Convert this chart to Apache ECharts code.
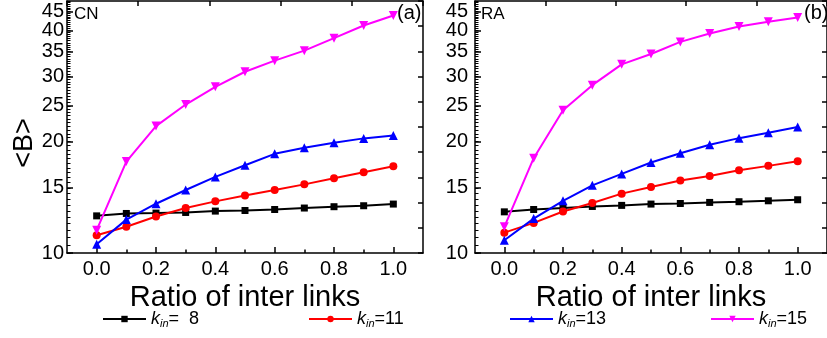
<!DOCTYPE html>
<html>
<head>
<meta charset="utf-8">
<script src="https://cdn.jsdelivr.net/npm/echarts@6/dist/echarts.min.js"></script>
<style>
html,body{margin:0;padding:0;background:#fff;}
#chart{width:827px;height:338px;}
</style>
</head>
<body>
<div id="chart"></div>
<script>
const ratios = [0.0, 0.1, 0.2, 0.3, 0.4, 0.5, 0.6, 0.7, 0.8, 0.9, 1.0];
// Panel (a) CN
const cnK8  = [12.60, 12.79, 12.82, 12.87, 12.98, 13.03, 13.11, 13.23, 13.34, 13.42, 13.56];
const cnK11 = [11.17, 11.77, 12.55, 13.23, 13.79, 14.31, 14.80, 15.33, 15.92, 16.53, 17.16];
const cnK13 = [10.56, 12.31, 13.59, 14.80, 16.06, 17.27, 18.54, 19.25, 19.87, 20.41, 20.79];
const cnK15 = [11.53, 17.67, 22.03, 25.20, 28.13, 30.90, 33.11, 35.24, 38.08, 41.21, 43.87];
// Panel (b) RA
const raK8  = [12.92, 13.11, 13.23, 13.36, 13.45, 13.56, 13.61, 13.70, 13.76, 13.84, 13.93];
const raK11 = [11.35, 12.06, 12.95, 13.65, 14.47, 15.08, 15.70, 16.16, 16.74, 17.20, 17.70];
const raK13 = [10.83, 12.39, 13.84, 15.24, 16.36, 17.57, 18.61, 19.62, 20.44, 21.15, 21.90];
const raK15 = [11.77, 18.04, 24.32, 28.43, 32.36, 34.52, 37.21, 39.20, 40.95, 42.17, 43.33];

const yTickLabels = [10, 15, 20, 25, 30, 35, 40];
const yTopLabel = [45];
const yMajorTicks = [10, 15, 20, 25, 30, 35, 40, 45];
const yMinorTicks = [];
for (let v = 10; v <= 48; v += 0.5) yMinorTicks.push(v);
const xTickLabels = [0.0, 0.2, 0.4, 0.6, 0.8, 1.0];
const xMinorTicks = [0.1, 0.3, 0.5, 0.7, 0.9];
const legendNames = ['k8', 'k11', 'k13', 'k15'];
const legendValues = {k8: '=  8', k11: '=11', k13: '=13', k15: '=15'};

const FONT = 'Liberation Sans, Arial, sans-serif';
const AX = {color: '#000', width: 1.5};
const TK = {color: '#000', width: 1.5};

function pairs(vals) { return ratios.map((r, i) => [r, vals[i]]); }

const styles = {
  k8:  {color: '#000000', symbol: 'rect', size: 7, rotate: 0},
  k11: {color: '#FF0000', symbol: 'circle', size: 8, rotate: 0},
  k13: {color: '#0000FF', symbol: 'triangle', size: 9, rotate: 0},
  k15: {color: '#FF00FF', symbol: 'triangle', size: 9, rotate: 180}
};

function mkSeries(name, vals, gi) {
  const s = styles[name];
  return {
    type: 'line', name: name, data: pairs(vals),
    xAxisIndex: gi * 3, yAxisIndex: gi * 3,
    symbol: s.symbol, symbolSize: s.size, symbolRotate: s.rotate,
    showAllSymbol: true, animation: false,
    lineStyle: {color: s.color, width: 2},
    itemStyle: {color: s.color}
  };
}

function xAxesFor(gi) {
  return [
    {gridIndex: gi, type: 'value', position: 'bottom', min: -0.1, max: 1.1,
     axisLine: {lineStyle: AX, onZero: false}, splitLine: {show: false},
     axisTick: {show: true, inside: true, length: 6, lineStyle: TK, customValues: xTickLabels},
     axisLabel: {customValues: xTickLabels, color: '#000', fontSize: 20, fontFamily: FONT, margin: 6,
                 formatter: v => v.toFixed(1)},
     name: 'Ratio of inter links', nameLocation: 'middle', nameGap: 24,
     nameTextStyle: {color: '#000', fontSize: 29, fontFamily: FONT}},
    {gridIndex: gi, type: 'value', position: 'bottom', min: -0.1, max: 1.1,
     axisLine: {show: false, onZero: false}, splitLine: {show: false}, axisLabel: {show: false},
     axisTick: {show: true, inside: true, length: 3.5, lineStyle: TK, customValues: xMinorTicks}},
    {gridIndex: gi, type: 'value', position: 'top', min: 0, max: 5, interval: 1,
     axisLine: {lineStyle: AX, onZero: false}, splitLine: {show: false}, axisLabel: {show: false},
     axisTick: {show: true, inside: true, length: 5, lineStyle: TK}}
  ];
}

function yAxesFor(gi) {
  const main = {gridIndex: gi, type: 'log', position: 'left', min: 10, max: 48,
     axisLine: {lineStyle: AX, onZero: false}, splitLine: {show: false}, minorTick: {show: false},
     axisTick: {show: true, inside: true, length: 6, lineStyle: TK, customValues: yMajorTicks},
     axisLabel: {customValues: yTickLabels, color: '#000', fontSize: 20, fontFamily: FONT,
                 margin: gi === 0 ? 3 : 7, formatter: v => String(Math.round(v))}};
  if (gi === 0) {
    main.name = '<B>';
    main.nameLocation = 'middle';
    main.nameGap = 29;
    main.nameRotate = 90;
    main.nameTextStyle = {color: '#000', fontSize: 27, fontFamily: FONT, padding: [0, 32, 0, 0]};
  }
  return [
    main,
    {gridIndex: gi, type: 'log', position: 'left', min: 10, max: 48,
     axisLine: {show: false, onZero: false}, splitLine: {show: false},
     axisLabel: {customValues: yTopLabel, color: '#000', fontSize: 20, fontFamily: FONT,
                 margin: gi === 0 ? 3 : 7, showMaxLabel: true, formatter: v => String(Math.round(v))},
     axisTick: {show: true, inside: true, length: 3.5, lineStyle: {color: '#000', width: 1}, customValues: yMinorTicks}},
    {gridIndex: gi, type: 'value', position: 'right', min: 0, max: 10, interval: 1,
     axisLine: {lineStyle: AX, onZero: false}, splitLine: {show: false}, axisLabel: {show: false},
     axisTick: {show: true, inside: true, length: 5, lineStyle: TK}}
  ];
}

const legendLefts = [97, 303, 504, 705];
const legends = legendNames.map((n, i) => ({
  data: [n], left: legendLefts[i], top: 305, orient: 'horizontal',
  itemWidth: 43, itemHeight: 8, itemGap: 0,
  textStyle: {
    color: '#000', fontFamily: FONT, fontSize: 17,
    rich: {
      k: {fontSize: 18, fontStyle: 'italic', fontFamily: FONT, color: '#000', lineHeight: 22},
      s: {fontSize: 11, fontStyle: 'italic', fontFamily: FONT, color: '#000', padding: [9, 0, 0, 0]},
      t: {fontSize: 18, fontFamily: FONT, color: '#000', lineHeight: 22}
    }
  },
  formatter: name => '{k|k}{s|in}{t|' + legendValues[name] + '}'
}));

const titles = [
  {text: 'CN', left: 74, top: 6, textStyle: {fontSize: 17, fontWeight: 'normal', fontFamily: FONT, color: '#000'}},
  {text: '(a)', left: 397, top: 3, textStyle: {fontSize: 20, fontWeight: 'normal', fontFamily: FONT, color: '#000'}},
  {text: 'RA', left: 481, top: 6, textStyle: {fontSize: 17, fontWeight: 'normal', fontFamily: FONT, color: '#000'}},
  {text: '(b)', left: 804, top: 3, textStyle: {fontSize: 20, fontWeight: 'normal', fontFamily: FONT, color: '#000'}}
];
titles.forEach(t => { t.padding = 0; });

const option = {
  backgroundColor: '#fff',
  animation: false,
  title: titles,
  legend: legends,
  grid: [
    {left: 67, top: 1, width: 356, height: 252},
    {left: 475, top: 1, width: 357, height: 252}
  ],
  xAxis: xAxesFor(0).concat(xAxesFor(1)),
  yAxis: yAxesFor(0).concat(yAxesFor(1)),
  series: [
    mkSeries('k8', cnK8, 0), mkSeries('k11', cnK11, 0), mkSeries('k13', cnK13, 0), mkSeries('k15', cnK15, 0),
    mkSeries('k8', raK8, 1), mkSeries('k11', raK11, 1), mkSeries('k13', raK13, 1), mkSeries('k15', raK15, 1)
  ]
};

const chart = echarts.init(document.getElementById('chart'), null, {renderer: 'canvas'});
chart.setOption(option);
</script>
</body>
</html>
